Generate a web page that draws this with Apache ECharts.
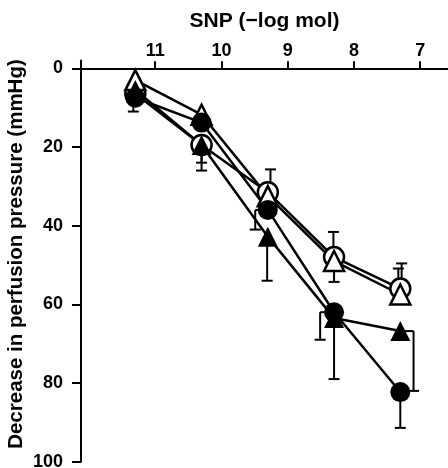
<!DOCTYPE html>
<html><head><meta charset="utf-8">
<script src="https://cdn.jsdelivr.net/npm/echarts@6/dist/echarts.min.js"></script>
<style>html,body{margin:0;padding:0;background:#fff}#c{width:448px;height:468px}</style>
</head><body><div id="c"></div>
<script>
// dose (-log mol) for each data column
const doseX = [11.3, 10.3, 9.3, 8.3, 7.3];
const xTicks = [11, 10, 9, 8, 7];
const yTicks = [0, 20, 40, 60, 80, 100];
// decrease in perfusion pressure (mmHg)
const openCircle = [6.5, 19.5, 31.5, 48, 56];
const openTriangle = [3, 11.8, 32.5, 49, 57.5];
const filledCircle = [7.5, 13.8, 36, 62, 82.3];
const filledTriangle = [5.5, 19.5, 42.8, 63.5, 66.8];
// error bars: [point dose, bar dose, from, to]
const openCircleErr = [[10.3, 10.3, 19.5, 24], [9.3, 9.26, 31.5, 25.7], [8.3, 8.31, 48, 41.6], [7.3, 7.33, 56, 50.9]];
const openTriangleErr = [[8.3, 8.3, 49, 54.3], [7.3, 7.28, 57.5, 49.6]];
const filledCircleErr = [[11.3, 11.33, 7.5, 11], [9.3, 9.49, 36, 41], [8.3, 8.51, 62, 69], [7.3, 7.3, 82.3, 91.4]];
const filledTriangleErr = [[10.3, 10.3, 19.5, 26], [9.3, 9.31, 42.8, 54], [8.3, 8.3, 63.5, 79], [7.3, 7.1, 66.8, 82]];

const FONT = "'Liberation Sans', Arial, sans-serif";
const pairs = ys => doseX.map((x, i) => [x, ys[i]]);

function errSeries(data) {
  return {
    type: 'custom', z: 1, silent: true, data: data,
    encode: { x: [0, 1], y: [2, 3] },
    renderItem: function (params, api) {
      const p = api.coord([api.value(0), api.value(2)]);
      const b0 = api.coord([api.value(1), api.value(2)]);
      const b1 = api.coord([api.value(1), api.value(3)]);
      const st = { stroke: '#000', lineWidth: 2 };
      const ch = [];
      if (Math.abs(p[0] - b0[0]) > 0.5) {
        ch.push({ type: 'line', shape: { x1: p[0], y1: p[1], x2: b0[0], y2: b0[1] }, style: st });
      }
      ch.push({ type: 'line', shape: { x1: b0[0], y1: b0[1], x2: b1[0], y2: b1[1] }, style: st });
      ch.push({ type: 'line', shape: { x1: b1[0] - 5.5, y1: b1[1], x2: b1[0] + 5.5, y2: b1[1] }, style: st });
      return { type: 'group', children: ch };
    }
  };
}
function lineSeries(ys) {
  return { type: 'line', z: 2, silent: true, data: pairs(ys), symbol: 'none',
    lineStyle: { color: '#000', width: 2.5 } };
}
function markSeries(ys, symbol, filled) {
  return { type: 'scatter', z: 3, silent: true, data: pairs(ys), symbol: symbol, symbolSize: 20,
    itemStyle: filled ? { color: '#000', opacity: 1 } : { color: '#fff', borderColor: '#000', borderWidth: 2.5, opacity: 1 } };
}

const chart = echarts.init(document.getElementById('c'), null, { renderer: 'canvas' });
chart.setOption({
  animation: false,
  backgroundColor: '#fff',
  grid: { left: 81, right: 0, top: 60.4, bottom: 6.3, outerBoundsMode: 'none' },
  xAxis: {
    type: 'value', position: 'top', inverse: true, min: 6.58, max: 12.12,
    name: 'SNP (\u2212log mol)', nameLocation: 'middle', nameGap: 29,
    nameTextStyle: { fontFamily: FONT, fontSize: 21, fontWeight: 'bold', color: '#000' },
    axisLine: { onZero: true, lineStyle: { color: '#000', width: 2 } },
    axisTick: { show: true, inside: false, length: 7, customValues: xTicks, lineStyle: { color: '#000', width: 2 } },
    axisLabel: { customValues: xTicks, fontFamily: FONT, fontSize: 18, fontWeight: 'bold', color: '#000', margin: 0 },
    splitLine: { show: false }
  },
  yAxis: {
    type: 'value', inverse: true, min: -2, max: 100,
    name: 'Decrease in perfusion pressure (mmHg)', nameLocation: 'middle', nameGap: 54, nameMoveOverlap: false,
    nameTextStyle: { fontFamily: FONT, fontSize: 20.5, fontWeight: 'bold', color: '#000', padding: [0, 0, 0, 14] },
    axisLine: { show: true, lineStyle: { color: '#000', width: 2 } },
    axisTick: { show: true, inside: false, length: 9, customValues: yTicks, lineStyle: { color: '#000', width: 2 } },
    axisLabel: { customValues: yTicks, fontFamily: FONT, fontSize: 18, fontWeight: 'bold', color: '#000', margin: 18 },
    splitLine: { show: false }
  },
  series: [
    errSeries(openCircleErr), errSeries(openTriangleErr), errSeries(filledTriangleErr), errSeries(filledCircleErr),
    lineSeries(openCircle), lineSeries(openTriangle), lineSeries(filledTriangle), lineSeries(filledCircle),
    markSeries(openCircle, 'circle', false), markSeries(openTriangle, 'triangle', false),
    markSeries(filledTriangle, 'triangle', true), markSeries(filledCircle, 'circle', true)
  ]
});
</script></body></html>
